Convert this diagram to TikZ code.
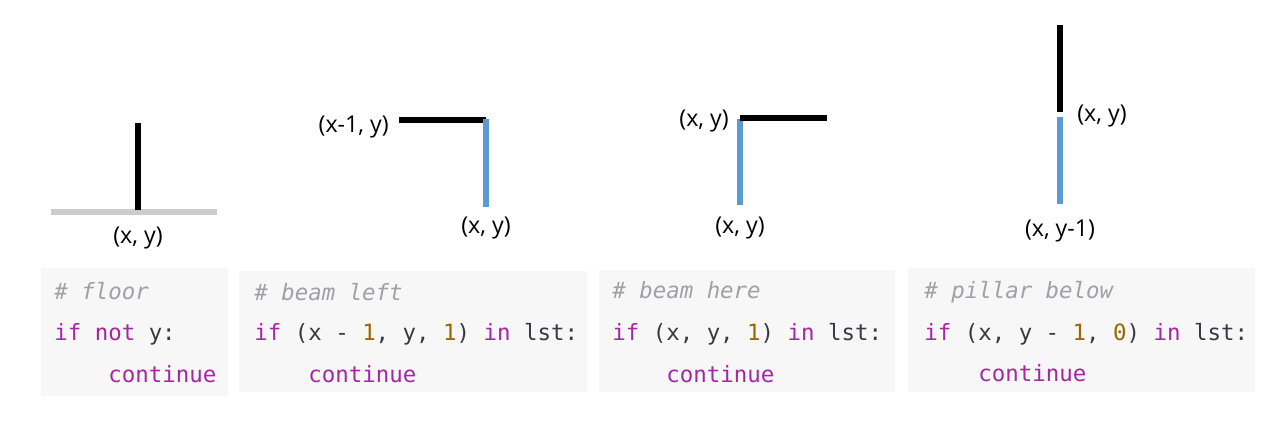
\documentclass[tikz,border=0pt]{standalone}
\usepackage{fontspec}
\setmainfont{Open Sans}
\setmonofont{DejaVu Sans Mono}
\definecolor{kwcol}{HTML}{A626A4}
\definecolor{numcol}{HTML}{986801}
\definecolor{cmtcol}{HTML}{A0A1A7}
\definecolor{txtcol}{HTML}{383A42}
\definecolor{boxcol}{HTML}{F7F7F7}
\definecolor{floorcol}{HTML}{CCCCCC}
\definecolor{newcol}{HTML}{5B9BD5}
\newcommand{\kwd}[1]{\textcolor{kwcol}{#1}}
\newcommand{\nmb}[1]{\textcolor{numcol}{#1}}
\newcommand{\cmnt}[1]{\textcolor{cmtcol}{\itshape #1}}
\tikzset{
  lbl/.style={font=\fontsize{13.2}{15}\selectfont, inner sep=0pt},
  code/.style={anchor=base west, inner sep=0pt, text=txtcol,
    font=\ttfamily\fontsize{12.75}{15}\selectfont},
  old/.style={draw=black, line width=3.2pt},
  new/.style={draw=newcol, line width=3.4pt},
  codebox/.style={fill=boxcol}
}

\begin{document}
\begin{tikzpicture}[x=0.02cm, y=-0.02cm, line cap=butt]
\useasboundingbox (0,0) rectangle (1280,433);
% floor
\draw[draw=floorcol, line width=3.4pt] (51,212) -- (217,212);
\draw[old] (138,123) -- (138,210);
\node[lbl] (fxy) at (138,238) {(x, y)};
% beam left
\draw[old] (399,120) -- (486,120);
\draw[new] (486,119) -- (486,207);
\node[lbl, anchor=east] (blxy) at (389,127) {(x-1, y)};
\node[lbl] (bxy) at (486,228) {(x, y)};
% beam here
\draw[new] (740,119) -- (740,205);
\draw[old] (740,118) -- (827,118);
\node[lbl, anchor=east] (hxy) at (729,121) {(x, y)};
\node[lbl] (hbxy) at (740,228) {(x, y)};
% pillar below
\draw[old] (1060,25) -- (1060,112);
\draw[new] (1060,117) -- (1060,204);
\node[lbl, anchor=west] (pxy) at (1077,116) {(x, y)};
\node[lbl] (pbxy) at (1060,231) {(x, y-1)};
% code boxes
\fill[codebox] (41,268) rectangle (228,396);
\fill[codebox] (239,271) rectangle (587,392);
\fill[codebox] (599,270) rectangle (895,392);
\fill[codebox] (908,268) rectangle (1255,392);
\node[code] (c1a) at (54,299) {\cmnt{\# floor}};
\node[code] (c1b) at (54,340) {\kwd{if} \kwd{not} y:};
\node[code] (c1c) at (108,382) {\kwd{continue}};
\node[code] (c2a) at (254,300) {\cmnt{\# beam left}};
\node[code] (c2b) at (254,340) {\kwd{if} (x - \nmb{1}, y, \nmb{1}) \kwd{in} lst:};
\node[code] (c2c) at (308,382) {\kwd{continue}};
\node[code] (c3a) at (612,298) {\cmnt{\# beam here}};
\node[code] (c3b) at (612,340) {\kwd{if} (x, y, \nmb{1}) \kwd{in} lst:};
\node[code] (c3c) at (666,382) {\kwd{continue}};
\node[code] (c4a) at (924,298) {\cmnt{\# pillar below}};
\node[code] (c4b) at (924,340) {\kwd{if} (x, y - \nmb{1}, \nmb{0}) \kwd{in} lst:};
\node[code] (c4c) at (978,381) {\kwd{continue}};
\end{tikzpicture}
\end{document}
